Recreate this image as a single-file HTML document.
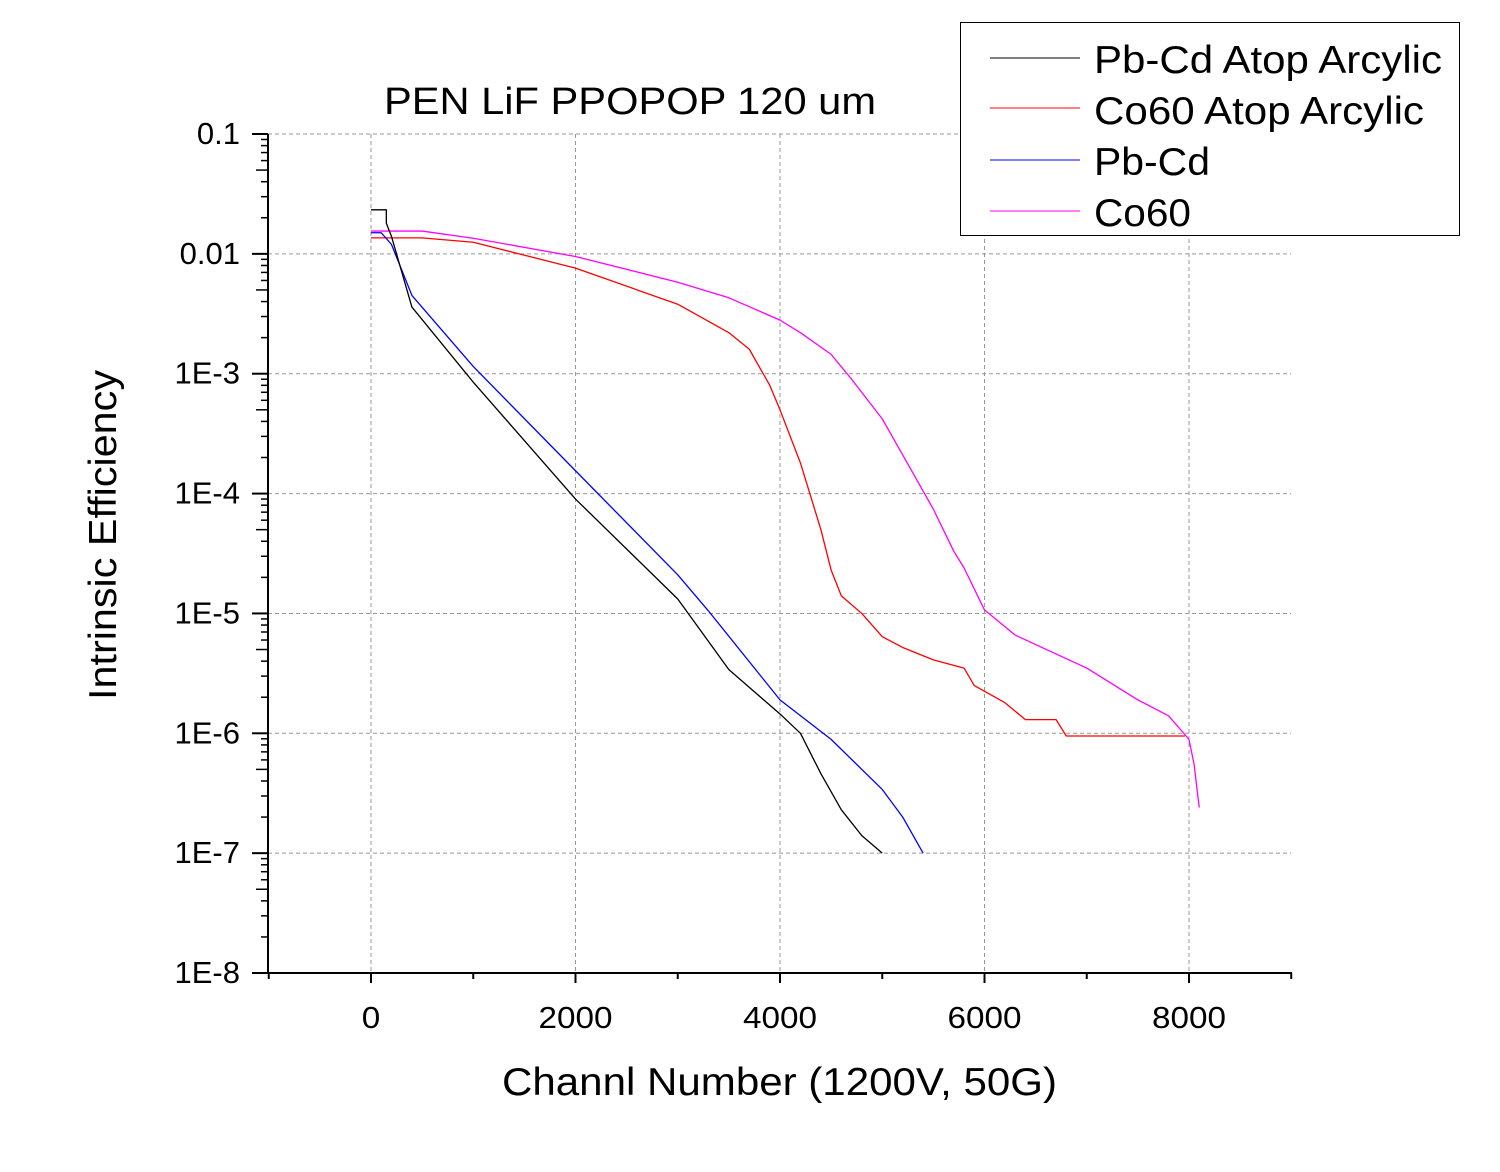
<!DOCTYPE html>
<html><head><meta charset="utf-8"><style>
body{margin:0;background:#fff}
svg text{font-family:"Liberation Sans",Arial,sans-serif}
</style></head><body>
<svg id="chart" width="1500" height="1167" xmlns="http://www.w3.org/2000/svg">
<rect width="1500" height="1167" fill="#fff"/>
<g id="grid"></g><g id="axes"></g><g id="series"></g>
<text x="384" y="114" font-size="38" textLength="492" lengthAdjust="spacingAndGlyphs">PEN LiF PPOPOP 120 um</text>
<text x="502" y="1095" font-size="39" textLength="555" lengthAdjust="spacingAndGlyphs">Channl Number (1200V, 50G)</text>
<text transform="translate(116,700) rotate(-90)" font-size="39" textLength="330" lengthAdjust="spacingAndGlyphs">Intrinsic Efficiency</text>
<g>
<rect x="960.5" y="22.5" width="499" height="213" fill="#fff" stroke="#000" stroke-width="1"/>
<line x1="990" x2="1080" y1="58" y2="58" stroke="#000"/><text x="1094" y="73" font-size="39" textLength="348" lengthAdjust="spacingAndGlyphs">Pb-Cd Atop Arcylic</text>
<line x1="990" x2="1080" y1="108" y2="108" stroke="#f00"/><text x="1094" y="124" font-size="39" textLength="330" lengthAdjust="spacingAndGlyphs">Co60 Atop Arcylic</text>
<line x1="990" x2="1080" y1="160" y2="160" stroke="#00f"/><text x="1094" y="175" font-size="39" textLength="116" lengthAdjust="spacingAndGlyphs">Pb-Cd</text>
<line x1="990" x2="1080" y1="211" y2="211" stroke="#f0f"/><text x="1094" y="226" font-size="39" textLength="97" lengthAdjust="spacingAndGlyphs">Co60</text>
</g>
</svg>
<script>
const xTicks=[0,2000,4000,6000,8000];
const yTickExp=[-1,-2,-3,-4,-5,-6,-7,-8];
const yTickLabels=["0.1","0.01","1E-3","1E-4","1E-5","1E-6","1E-7","1E-8"];
const pbAtopX=[0,150,150,200,400,1000,2000,3000,3500,4000,4200,4400,4600,4800,5000];
const pbAtopY=[0.0233,0.0233,0.018,0.014,0.0036,0.00085,0.00009,0.0000132,0.0000034,0.00000145,0.000001,0.00000046,0.00000023,0.00000014,0.0000001];
const coAtopX=[0,500,1000,2000,3000,3500,3700,3900,4000,4200,4400,4500,4600,4800,5000,5200,5500,5800,5900,6200,6400,6700,6800,7900,7960];
const coAtopY=[0.0136,0.0136,0.0125,0.0076,0.0038,0.0022,0.0016,0.0008,0.0005,0.00018,0.00005,0.000023,0.000014,0.00001,0.0000064,0.0000052,0.0000041,0.0000035,0.0000025,0.0000018,0.0000013,0.0000013,0.00000095,0.00000095,0.00000095];
const pbX=[0,100,200,400,1000,2000,3000,3300,4000,4500,5000,5200,5400];
const pbY=[0.015,0.015,0.012,0.0045,0.00115,0.000155,0.000021,0.0000105,0.0000019,0.00000089,0.00000034,0.0000002,0.0000001];
const coX=[0,500,1000,2000,3000,3500,4000,4200,4500,4700,5000,5200,5500,5700,5800,6000,6300,6500,7000,7500,7800,8000,8050,8100];
const coY=[0.0155,0.0155,0.0135,0.0095,0.0058,0.0043,0.0028,0.0022,0.00145,0.0009,0.00042,0.00021,0.000074,0.000033,0.000024,0.0000107,0.0000066,0.0000055,0.0000035,0.0000019,0.0000014,0.00000089,0.00000055,0.00000024];
const NS="http://www.w3.org/2000/svg";
const X=v=>371+v*0.10225;
const Y=v=>134-(Math.log10(v)+1)*119.86;
const YE=e=>134-(e+1)*119.86;
function mk(t,a,p){const e=document.createElementNS(NS,t);for(const k in a)e.setAttribute(k,a[k]);p.appendChild(e);return e;}
const grid=document.getElementById('grid'),axes=document.getElementById('axes'),ser=document.getElementById('series');
xTicks.forEach(t=>{const l=mk('line',{x1:X(t),x2:X(t),y1:134,y2:973,stroke:'#999','stroke-dasharray':'4,3'},grid);

});
yTickExp.slice(0,7).forEach(e=>{const l=mk('line',{x1:268,x2:1291,y1:YE(e),y2:YE(e),stroke:'#999','stroke-dasharray':'4,3'},grid);

});
mk('line',{x1:268,x2:268,y1:134,y2:974,stroke:'#000','stroke-width':2},axes);
mk('line',{x1:267,x2:1292,y1:973,y2:973,stroke:'#000','stroke-width':2},axes);
for(let v=-1000;v<=9000;v+=1000){const maj=v%2000===0;mk('line',{x1:X(v),x2:X(v),y1:973,y2:maj?983:979,stroke:'#000','stroke-width':2},axes);}
xTicks.forEach(t=>{const s=String(t);const tx=mk('text',{x:X(t),y:1028,'font-size':31,'text-anchor':'middle',textLength:s.length*18.5,lengthAdjust:'spacingAndGlyphs'},axes);tx.textContent=s;

});
yTickExp.forEach((e,i)=>{mk('line',{x1:252,x2:268,y1:YE(e),y2:YE(e),stroke:'#000','stroke-width':2},axes);
const tx=mk('text',{x:240,y:YE(e)+10,'font-size':31,'text-anchor':'end'},axes);tx.textContent=yTickLabels[i];


if(e>-8)for(let m=2;m<=9;m++){const yy=YE(e-1)-Math.log10(m)*119.86;mk('line',{x1:m==5?256:261,x2:268,y1:yy,y2:yy,stroke:'#000','stroke-width':1.5},axes);}});
function draw(xs,ys,c,name){const p=mk('polyline',{points:xs.map((x,i)=>X(x)+','+Y(ys[i])).join(' '),fill:'none',stroke:c,'stroke-width':1.3,'stroke-linejoin':'round'},ser);

}
draw(coX,coY,'#f0f','series-co60');
draw(coAtopX,coAtopY,'#f00','series-co60-atop-arcylic');
draw(pbX,pbY,'#00f','series-pb-cd');
draw(pbAtopX,pbAtopY,'#000','series-pb-cd-atop-arcylic');
</script>
</body></html>
